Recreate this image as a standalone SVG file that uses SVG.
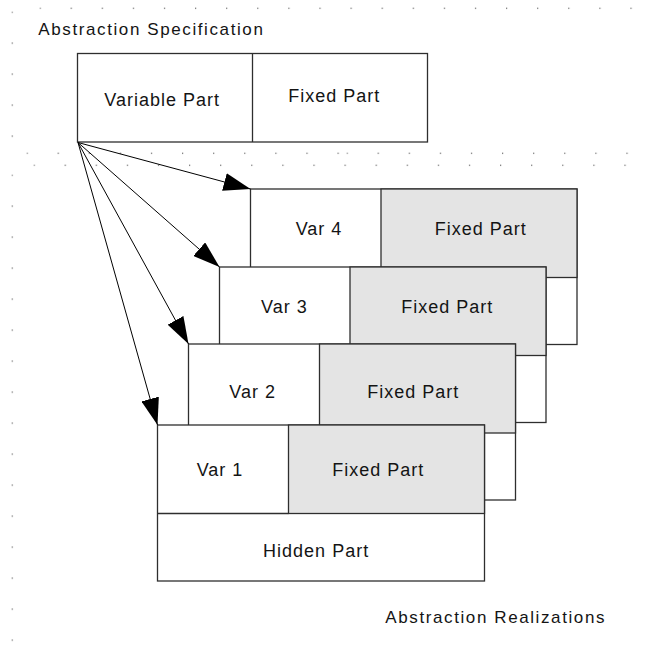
<svg xmlns="http://www.w3.org/2000/svg" width="652" height="654" viewBox="0 0 652 654">
  <style>
    text { font-family: "Liberation Sans", Arial, Helvetica, sans-serif; font-size: 18px; letter-spacing: 1px; fill: #141414; }
    text.title { font-size: 17px; letter-spacing: 1.6px; }
    .cell { fill: #ffffff; stroke: #2e2e2e; stroke-width: 1.3; }
    .fixed { fill: #e4e4e4; stroke: #2e2e2e; stroke-width: 1.3; }
    .div { stroke: #2e2e2e; stroke-width: 1.3; }
    .conn { stroke: #000000; stroke-width: 1; fill: none; marker-end: url(#head); }
  </style>
  <defs>
    <marker id="head" markerUnits="userSpaceOnUse" markerWidth="27" markerHeight="18" refX="27" refY="9" orient="auto">
      <path d="M0,0 L27,9 L0,18 Z" fill="#000000"/>
    </marker>
    <!-- grid dots along a row -->
    <pattern id="dotRow" patternUnits="userSpaceOnUse" x="0" y="0" width="31.1" height="10">
      <rect width="1.2" height="1.2" fill="#333333"/>
    </pattern>
    <!-- grid dots down a column -->
    <pattern id="dotCol" patternUnits="userSpaceOnUse" x="0" y="0" width="10" height="31">
      <rect width="1.2" height="1.2" fill="#333333"/>
    </pattern>
  </defs>

  <rect width="652" height="654" fill="#ffffff"/>

  <!-- page grid -->
  <g id="grid">
    <rect transform="translate(39.5,7.5)" width="600" height="2" fill="url(#dotRow)"/>
    <rect transform="translate(11.5,11.5)" width="2" height="130" fill="url(#dotCol)"/>
    <rect transform="translate(11.5,174.5)" width="2" height="470" fill="url(#dotCol)"/>
    <rect transform="translate(26.5,152.5)" width="315" height="2" fill="url(#dotRow)"/>
    <rect transform="translate(346.5,152.5)" width="285" height="2" fill="url(#dotRow)"/>
    <rect transform="translate(33.5,164.5)" width="598" height="2" fill="url(#dotRow)"/>
  </g>

  <text id="spec-title" class="title" x="38.3" y="35">Abstraction Specification</text>

  <!-- abstraction specification -->
  <g id="spec">
    <rect class="cell" x="77.5" y="53.5" width="350" height="88.5"/>
    <line class="div" x1="252.5" y1="53.5" x2="252.5" y2="142" stroke-width="1.6"/>
    <text x="104.3" y="106">Variable Part</text>
    <text x="288.3" y="102.3">Fixed Part</text>
  </g>

  <!-- realizations, back to front -->
  <g id="real4">
    <rect class="cell" x="250.5" y="189" width="326.5" height="155.5"/>
    <rect class="fixed" x="381" y="189" width="196" height="88.5"/>
    <text x="295.7" y="235">Var 4</text>
    <text x="434.7" y="235">Fixed Part</text>
  </g>
  <g id="real3">
    <rect class="cell" x="219.5" y="267" width="326.5" height="155.5"/>
    <rect class="fixed" x="350" y="267" width="196" height="88.5"/>
    <text x="261" y="313.3">Var 3</text>
    <text x="401.3" y="313.3">Fixed Part</text>
  </g>
  <g id="real2">
    <rect class="cell" x="188.5" y="344" width="327" height="156"/>
    <rect class="fixed" x="319.5" y="344" width="196" height="89"/>
    <text x="229.3" y="398.3">Var 2</text>
    <text x="367.3" y="398.3">Fixed Part</text>
  </g>
  <g id="real1">
    <rect class="cell" x="157.5" y="425" width="327" height="156"/>
    <rect class="fixed" x="288.5" y="425" width="196" height="88.5"/>
    <line class="div" x1="157.5" y1="513.5" x2="288.5" y2="513.5"/>
    <text x="196.7" y="476">Var 1</text>
    <text x="332.3" y="476">Fixed Part</text>
    <text x="263.1" y="557.3">Hidden Part</text>
  </g>

  <!-- connectors from the specification to each realization -->
  <g id="connectors">
    <line class="conn" x1="78" y1="142.5" x2="250.5" y2="189"/>
    <line class="conn" x1="78" y1="142.5" x2="219.5" y2="267"/>
    <line class="conn" x1="78" y1="142.5" x2="188.5" y2="344"/>
    <line class="conn" x1="78" y1="142.5" x2="157.5" y2="425"/>
  </g>

  <text id="real-title" class="title" x="385.3" y="622.7">Abstraction Realizations</text>
</svg>
